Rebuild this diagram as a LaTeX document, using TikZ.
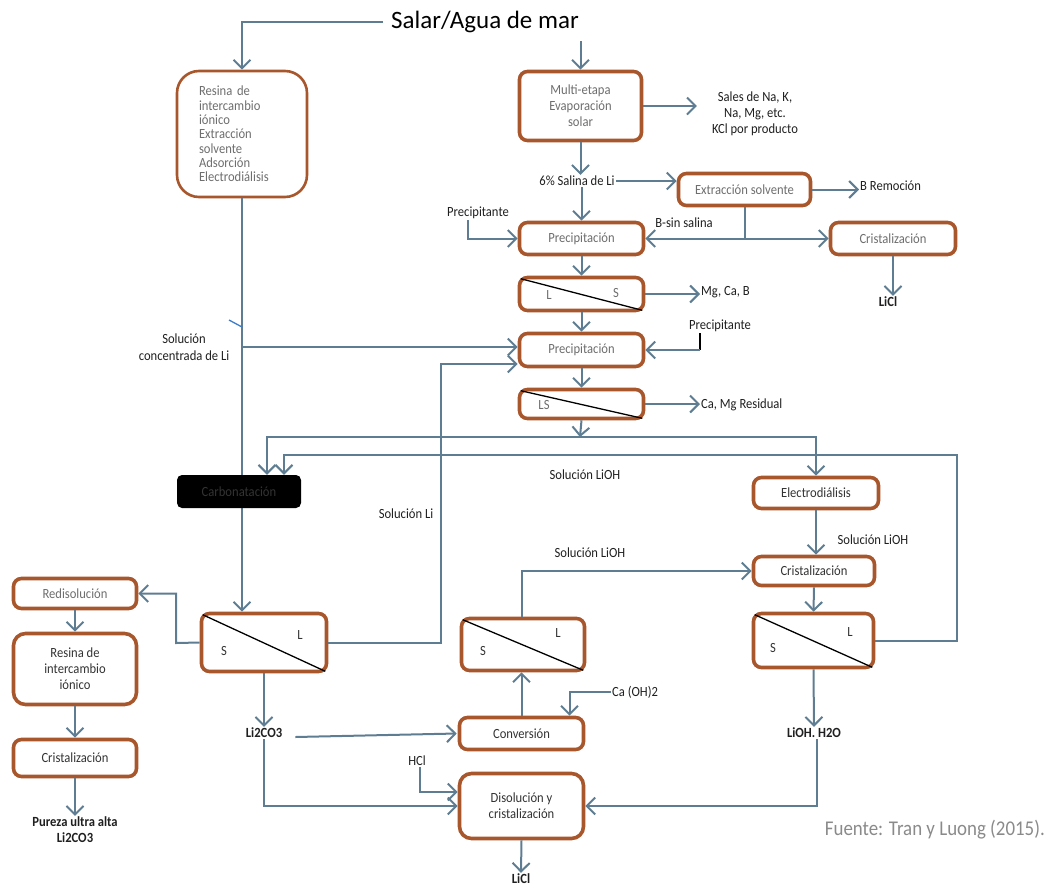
\documentclass[tikz,border=0pt]{standalone}
\usepackage{fontspec}
\setmainfont{Carlito}[FakeStretch=0.9]
\newfontfamily\plainfont{Carlito}
\usetikzlibrary{arrows.meta}
\definecolor{brn}{HTML}{A8562B}
\definecolor{arr}{HTML}{5E7D92}
\definecolor{gtext}{HTML}{6E6E6E}
\definecolor{dtext}{HTML}{333333}
\definecolor{ltext}{HTML}{8A8A8A}
\definecolor{tick}{HTML}{3D7CC9}
\begin{document}
\begin{tikzpicture}[x=1pt,y=-1pt,
  every node/.style={font=\fontsize{14}{16}\selectfont, inner sep=1pt},
  box/.style={draw=brn, line width=3.6pt, rounded corners=8pt, fill=white, align=center, text=gtext, inner sep=0pt},
  dbox/.style={box, text=dtext},
  flow/.style={draw=arr, line width=2pt, -{Straight Barb[length=8.5pt,width=17pt]}},
  pline/.style={draw=arr, line width=2pt},
  lbl/.style={text=black!88, align=center},
  blbl/.style={lbl, font=\fontsize{14}{16}\selectfont\bfseries},
  sl/.style={text=gtext},
  diag/.style={draw=black, line width=1.3pt}
]
\useasboundingbox (0,0) rectangle (1047,887);

% ---------- nodes ----------
\node[lbl, text=black, font=\plainfont\fontsize{25}{28}\selectfont, inner sep=8pt] (src) at (485,22) {Salar/Agua de mar};

\node[box, line width=2.6pt, rounded corners=22pt, minimum width=130pt, minimum height=126pt, align=left, text width=86pt, font=\fontsize{14}{14.3}\selectfont] (b1) at (242,134)
  {Resina de\\intercambio\\iónico\\Extracción\\solvente\\Adsorción\\Electrodiálisis};

\node[box, minimum width=122pt, minimum height=69pt] (me) at (580.5,106) {Multi-etapa\\Evaporación\\solar};
\node[lbl, font=\fontsize{14}{16}\selectfont] (sales) at (755,114) {Sales de Na, K,\\Na, Mg, etc.\\KCl por producto};
\node[lbl] (sal6) at (577,181) {6\% Salina de Li};
\node[box, minimum width=132pt, minimum height=32pt] (ext) at (744.5,189.5) {Extracción solvente};
\node[lbl, anchor=west] (brem) at (859,186) {B Remoción};
\node[box, minimum width=124pt, minimum height=32pt] (p1) at (581.5,238.5) {Precipitación};
\node[lbl] (prec1) at (478,213) {Precipitante};
\node[lbl] (bsin) at (684,223) {B-sin salina};
\node[box, minimum width=125pt, minimum height=32pt] (cr1) at (893,238.5) {Cristalización};
\node[blbl] (licl1) at (888,302) {LiCl};

\node[box, minimum width=124pt, minimum height=33pt] (ls1) at (581.5,294) {};
\node[sl] (ls1L) at (549,295) {L};
\node[sl] (ls1S) at (616,293) {S};
\node[lbl, anchor=west] (mgcab) at (700,292) {Mg, Ca, B};

\node[box, minimum width=124pt, minimum height=33pt] (p2) at (581.5,350) {Precipitación};
\node[lbl] (prec2) at (720,326) {Precipitante};
\node[box, minimum width=124pt, minimum height=29pt] (ls2) at (581.5,404) {};
\node[sl] (ls2t) at (544,405) {LS};
\node[lbl, anchor=west] (camg) at (700,405) {Ca, Mg Residual};

\node[lbl, font=\fontsize{14}{17}\selectfont] (solconc) at (184,347) {Solución\\concentrada de Li};
\node[lbl] (sollioh1) at (585,475) {Solución LiOH};
\node[lbl] (solli) at (406,514) {Solución Li};

\node[dbox, minimum width=125pt, minimum height=31pt] (electro) at (816,493) {Electrodiálisis};
\node[lbl] (sollioh2) at (873,540) {Solución LiOH};
\node[dbox, minimum width=121pt, minimum height=29pt] (cr2) at (814,571) {Cristalización};
\node[lbl] (sollioh3) at (590,553) {Solución LiOH};

\node[box, minimum width=125pt, minimum height=58pt] (sl1) at (264,642.5) {};
\node[text=dtext] (sl1L) at (300,635) {L};
\node[text=dtext] (sl1S) at (224,651) {S};

\node[box, minimum width=123pt, minimum height=30pt] (redis) at (75,593.5) {Redisolución};
\node[dbox, rounded corners=12pt, minimum width=123pt, minimum height=71pt, font=\fontsize{14}{16}\selectfont] (res2) at (75,669) {Resina de\\intercambio\\iónico};
\node[dbox, minimum width=123pt, minimum height=37pt] (cr3) at (75,758) {Cristalización};
\node[blbl] (pureza) at (75,830) {Pureza ultra alta\\Li2CO3};
\node[blbl] (li2co3) at (264,733) {Li2CO3};

\node[box, minimum width=123pt, minimum height=52pt] (sl2) at (523,644.5) {};
\node[text=dtext] (sl2L) at (558,633) {L};
\node[text=dtext] (sl2S) at (483,651) {S};
\node[dbox, minimum width=124pt, minimum height=32pt] (conv) at (521.5,733.5) {Conversión};
\node[lbl, anchor=west] (caoh) at (611,692) {Ca (OH)2};
\node[lbl] (hcl) at (417,761) {HCl};
\node[dbox, rounded corners=12pt, minimum width=124pt, minimum height=65pt, font=\fontsize{14}{16}\selectfont] (dis) at (521.5,806) {Disolución y\\cristalización};
\node[blbl] (licl2) at (521,879) {LiCl};

\node[box, minimum width=120pt, minimum height=54pt] (sl3) at (813.5,640.5) {};
\node[text=dtext] (sl3L) at (850,632) {L};
\node[text=dtext] (sl3S) at (773,648) {S};
\node[blbl] (lioh) at (814,733) {LiOH. H2O};

\node[text=ltext, font=\fontsize{21}{24}\selectfont, anchor=east] (fuente) at (1046,830) {Fuente: Tran y Luong (2015).};

% ---------- diagonals ----------
\foreach \n in {ls1,ls2,sl1,sl2,sl3}
  \draw[diag] ([shift={(3pt,-3pt)}]\n.north west) -- ([shift={(-3pt,2pt)}]\n.south east);

% ---------- connectors ----------
\draw[flow] (src.west) -| (b1.north);
\draw[flow] (src.south -| me.north) -- (me.north);
\draw[flow] (me.east) -- ([xshift=-14pt]me.east -| sales.west);
\draw[flow] (me.south) -- (me.south |- sal6.north);
\draw[flow] (sal6.east) -- (sal6.east -| ext.west);
\draw[flow] (ext.east) -- (ext.east -| brem.west);
\draw[flow] (sal6.south -| p1.north) -- (p1.north);
\draw[flow] ([xshift=-10pt]prec1.south) |- (p1.west);
\draw[pline] (ext.south) -- (ext.south |- p1.east);
\draw[flow] (ext.south |- p1.east) -- (p1.east);
\draw[flow] (ext.south |- cr1.west) -- (cr1.west);
\draw[flow] (cr1.south) -- (cr1.south |- licl1.north);
\draw[flow] (p1.south) -- (ls1.north);
\draw[flow] (ls1.east) -- (ls1.east -| mgcab.west);
\draw[flow] (ls1.south) -- (p2.north);
\draw[black, line width=1.4pt] ([xshift=-20pt]prec2.south) -- ([xshift=-20pt]prec2.south |- p2.east);
\draw[flow] ([xshift=-20pt]prec2.south |- p2.east) -- (p2.east);
\draw[flow] (p2.south) -- (ls2.north);
\draw[flow] (ls2.east) -- (ls2.east -| camg.west);

\coordinate (hsplit) at (580,437);
\draw[flow] (ls2.south) -- (hsplit);
\draw[flow] (b1.south) -- (b1.south |- sl1.north);
\node[fill=black, rounded corners=5pt, minimum width=124pt, minimum height=33pt, text=dtext] (carb) at (239,491.5) {Carbonatación};
\draw[flow] (hsplit) -| (electro.north);
\draw[flow] (hsplit) -| ([xshift=28pt]carb.north);
\coordinate (rr) at (957,455);
\draw[flow] (sl3.east) -| (rr) -| ([xshift=45pt]carb.north);

\draw[tick, line width=1.3pt] (229,320) -- (242,327);
\draw[flow] (b1.south |- solconc.east) -- (b1.south |- solconc.east -| p2.west);

\coordinate (sli) at (441,364);
\draw[flow] (sl1.east) -| (sli) -- (sli -| p2.west);
\coordinate (sll) at (176,643);
\draw[flow] (sl1.west) -- (sll) |- (redis.east);
\draw[flow] (redis.south) -- (res2.north);
\draw[flow] (res2.south) -- (cr3.north);
\draw[flow] (cr3.south) -- (pureza.north);
\draw[flow] (sl1.south) -- (li2co3.north);
\draw[flow] ([xshift=12pt,yshift=-4pt]li2co3.east) -- ([xshift=-1pt]conv.west);
\draw[flow] (li2co3.south) |- (dis.west);
\draw[flow] ([xshift=3pt]hcl.south) |- ([yshift=14pt]dis.west);
\draw[flow] (dis.south) -- (licl2.north);
\draw[flow] (conv.north) -- (conv.north |- sl2.south);
\draw[flow] (caoh.west) -| ([xshift=48pt]conv.north);
\draw[flow] (sl2.north -| conv.north) |- (cr2.west);
\draw[flow] (electro.south) -- (electro.south |- cr2.north);
\draw[flow] (cr2.south) -- (sl3.north);
\draw[flow] (sl3.south) -- (lioh.north);
\draw[flow] ([xshift=3pt]lioh.south) |- (dis.east);
\end{tikzpicture}
\end{document}
